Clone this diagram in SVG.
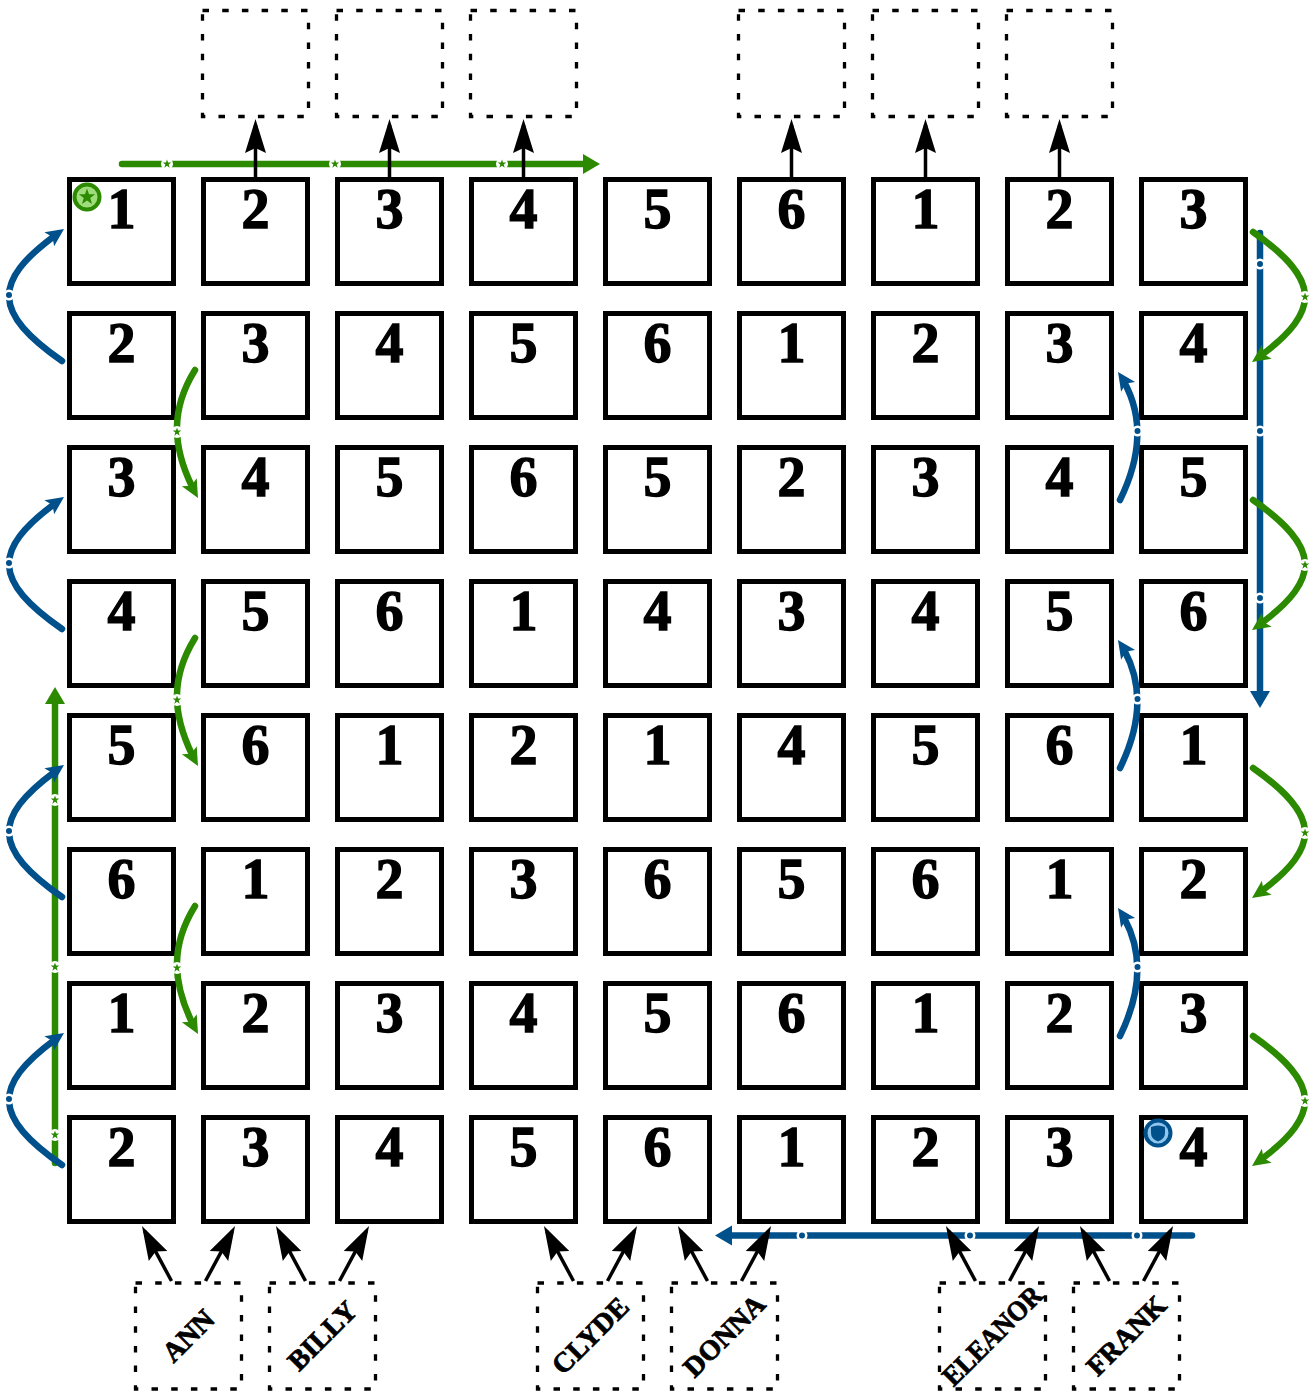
<svg xmlns="http://www.w3.org/2000/svg" xmlns:xlink="http://www.w3.org/1999/xlink" width="1310" height="1399" viewBox="0 0 1310 1399">
<style>
.sq{fill:#fff;stroke:#000;stroke-width:5}
.n{font-family:"Liberation Serif","DejaVu Serif",serif;font-weight:bold;font-size:56px;text-anchor:middle;fill:#000;stroke:#000;stroke-width:1.4}
.db{fill:none;stroke:#000;stroke-width:3.3;stroke-dasharray:6.5 13.2}
.nm{font-family:"Liberation Serif","DejaVu Serif",serif;font-weight:bold;font-size:28px;text-anchor:middle;fill:#000;stroke:#000;stroke-width:0.8}
.gl{fill:none;stroke:#2b8a00;stroke-width:6.5;stroke-linecap:round}
.bl{fill:none;stroke:#00508c;stroke-width:6.5;stroke-linecap:round}
.cl{stroke-dasharray:91 100}
.cll{stroke-dasharray:94 100}
.ka{fill:none;stroke:#000;stroke-width:3.5}
.gm{fill:#fff}
.gs{fill:#2b8a00}
.bm{fill:#00508c;stroke:#fff;stroke-width:2.5}
</style>
<defs>
<polygon id="star" points="0,-4.5 1.06,-1.46 4.28,-1.39 1.71,0.56 2.65,3.64 0,1.8 -2.65,3.64 -1.71,0.56 -4.28,-1.39 -1.06,-1.46"/>
<marker id="ags" viewBox="-6 -11 20 22" markerWidth="20" markerHeight="22" refX="0" refY="0" orient="auto" markerUnits="userSpaceOnUse" overflow="visible"><path d="M12,0 L-5,-10 L-5,10 z" fill="#2b8a00"/></marker>
<marker id="abs" viewBox="-6 -11 20 22" markerWidth="20" markerHeight="22" refX="0" refY="0" orient="auto" markerUnits="userSpaceOnUse" overflow="visible"><path d="M12,0 L-5,-10 L-5,10 z" fill="#00508c"/></marker>
<marker id="agc" viewBox="-20 -10 22 20" markerWidth="22" markerHeight="20" refX="0" refY="0" orient="auto" markerUnits="userSpaceOnUse" overflow="visible"><path d="M0,0 L-18,-8.5 L-14,0 L-18,8.5 z" fill="#2b8a00"/></marker>
<marker id="abc" viewBox="-20 -10 22 20" markerWidth="22" markerHeight="20" refX="0" refY="0" orient="auto" markerUnits="userSpaceOnUse" overflow="visible"><path d="M0,0 L-18,-8.5 L-14,0 L-18,8.5 z" fill="#00508c"/></marker>
<marker id="ak" viewBox="-30 -12 38 24" markerWidth="38" markerHeight="24" refX="0" refY="0" orient="auto" markerUnits="userSpaceOnUse" overflow="visible"><path d="M6,0 L-28,-10.5 L-23,0 L-28,10.5 z" fill="#000"/></marker>
</defs>
<rect width="1310" height="1399" fill="#fff"/>

<g id="squares">
<g id="r0c0" transform="translate(69.5,179.5)"><rect class="sq" width="104" height="104"/><text class="n" x="52" y="48.5">1</text></g>
<g id="r0c1" transform="translate(203.5,179.5)"><rect class="sq" width="104" height="104"/><text class="n" x="52" y="48.5">2</text></g>
<g id="r0c2" transform="translate(337.5,179.5)"><rect class="sq" width="104" height="104"/><text class="n" x="52" y="48.5">3</text></g>
<g id="r0c3" transform="translate(471.5,179.5)"><rect class="sq" width="104" height="104"/><text class="n" x="52" y="48.5">4</text></g>
<g id="r0c4" transform="translate(605.5,179.5)"><rect class="sq" width="104" height="104"/><text class="n" x="52" y="48.5">5</text></g>
<g id="r0c5" transform="translate(739.5,179.5)"><rect class="sq" width="104" height="104"/><text class="n" x="52" y="48.5">6</text></g>
<g id="r0c6" transform="translate(873.5,179.5)"><rect class="sq" width="104" height="104"/><text class="n" x="52" y="48.5">1</text></g>
<g id="r0c7" transform="translate(1007.5,179.5)"><rect class="sq" width="104" height="104"/><text class="n" x="52" y="48.5">2</text></g>
<g id="r0c8" transform="translate(1141.5,179.5)"><rect class="sq" width="104" height="104"/><text class="n" x="52" y="48.5">3</text></g>

<g id="r1c0" transform="translate(69.5,313.5)"><rect class="sq" width="104" height="104"/><text class="n" x="52" y="48.5">2</text></g>
<g id="r1c1" transform="translate(203.5,313.5)"><rect class="sq" width="104" height="104"/><text class="n" x="52" y="48.5">3</text></g>
<g id="r1c2" transform="translate(337.5,313.5)"><rect class="sq" width="104" height="104"/><text class="n" x="52" y="48.5">4</text></g>
<g id="r1c3" transform="translate(471.5,313.5)"><rect class="sq" width="104" height="104"/><text class="n" x="52" y="48.5">5</text></g>
<g id="r1c4" transform="translate(605.5,313.5)"><rect class="sq" width="104" height="104"/><text class="n" x="52" y="48.5">6</text></g>
<g id="r1c5" transform="translate(739.5,313.5)"><rect class="sq" width="104" height="104"/><text class="n" x="52" y="48.5">1</text></g>
<g id="r1c6" transform="translate(873.5,313.5)"><rect class="sq" width="104" height="104"/><text class="n" x="52" y="48.5">2</text></g>
<g id="r1c7" transform="translate(1007.5,313.5)"><rect class="sq" width="104" height="104"/><text class="n" x="52" y="48.5">3</text></g>
<g id="r1c8" transform="translate(1141.5,313.5)"><rect class="sq" width="104" height="104"/><text class="n" x="52" y="48.5">4</text></g>

<g id="r2c0" transform="translate(69.5,447.5)"><rect class="sq" width="104" height="104"/><text class="n" x="52" y="48.5">3</text></g>
<g id="r2c1" transform="translate(203.5,447.5)"><rect class="sq" width="104" height="104"/><text class="n" x="52" y="48.5">4</text></g>
<g id="r2c2" transform="translate(337.5,447.5)"><rect class="sq" width="104" height="104"/><text class="n" x="52" y="48.5">5</text></g>
<g id="r2c3" transform="translate(471.5,447.5)"><rect class="sq" width="104" height="104"/><text class="n" x="52" y="48.5">6</text></g>
<g id="r2c4" transform="translate(605.5,447.5)"><rect class="sq" width="104" height="104"/><text class="n" x="52" y="48.5">5</text></g>
<g id="r2c5" transform="translate(739.5,447.5)"><rect class="sq" width="104" height="104"/><text class="n" x="52" y="48.5">2</text></g>
<g id="r2c6" transform="translate(873.5,447.5)"><rect class="sq" width="104" height="104"/><text class="n" x="52" y="48.5">3</text></g>
<g id="r2c7" transform="translate(1007.5,447.5)"><rect class="sq" width="104" height="104"/><text class="n" x="52" y="48.5">4</text></g>
<g id="r2c8" transform="translate(1141.5,447.5)"><rect class="sq" width="104" height="104"/><text class="n" x="52" y="48.5">5</text></g>

<g id="r3c0" transform="translate(69.5,581.5)"><rect class="sq" width="104" height="104"/><text class="n" x="52" y="48.5">4</text></g>
<g id="r3c1" transform="translate(203.5,581.5)"><rect class="sq" width="104" height="104"/><text class="n" x="52" y="48.5">5</text></g>
<g id="r3c2" transform="translate(337.5,581.5)"><rect class="sq" width="104" height="104"/><text class="n" x="52" y="48.5">6</text></g>
<g id="r3c3" transform="translate(471.5,581.5)"><rect class="sq" width="104" height="104"/><text class="n" x="52" y="48.5">1</text></g>
<g id="r3c4" transform="translate(605.5,581.5)"><rect class="sq" width="104" height="104"/><text class="n" x="52" y="48.5">4</text></g>
<g id="r3c5" transform="translate(739.5,581.5)"><rect class="sq" width="104" height="104"/><text class="n" x="52" y="48.5">3</text></g>
<g id="r3c6" transform="translate(873.5,581.5)"><rect class="sq" width="104" height="104"/><text class="n" x="52" y="48.5">4</text></g>
<g id="r3c7" transform="translate(1007.5,581.5)"><rect class="sq" width="104" height="104"/><text class="n" x="52" y="48.5">5</text></g>
<g id="r3c8" transform="translate(1141.5,581.5)"><rect class="sq" width="104" height="104"/><text class="n" x="52" y="48.5">6</text></g>

<g id="r4c0" transform="translate(69.5,715.5)"><rect class="sq" width="104" height="104"/><text class="n" x="52" y="48.5">5</text></g>
<g id="r4c1" transform="translate(203.5,715.5)"><rect class="sq" width="104" height="104"/><text class="n" x="52" y="48.5">6</text></g>
<g id="r4c2" transform="translate(337.5,715.5)"><rect class="sq" width="104" height="104"/><text class="n" x="52" y="48.5">1</text></g>
<g id="r4c3" transform="translate(471.5,715.5)"><rect class="sq" width="104" height="104"/><text class="n" x="52" y="48.5">2</text></g>
<g id="r4c4" transform="translate(605.5,715.5)"><rect class="sq" width="104" height="104"/><text class="n" x="52" y="48.5">1</text></g>
<g id="r4c5" transform="translate(739.5,715.5)"><rect class="sq" width="104" height="104"/><text class="n" x="52" y="48.5">4</text></g>
<g id="r4c6" transform="translate(873.5,715.5)"><rect class="sq" width="104" height="104"/><text class="n" x="52" y="48.5">5</text></g>
<g id="r4c7" transform="translate(1007.5,715.5)"><rect class="sq" width="104" height="104"/><text class="n" x="52" y="48.5">6</text></g>
<g id="r4c8" transform="translate(1141.5,715.5)"><rect class="sq" width="104" height="104"/><text class="n" x="52" y="48.5">1</text></g>

<g id="r5c0" transform="translate(69.5,849.5)"><rect class="sq" width="104" height="104"/><text class="n" x="52" y="48.5">6</text></g>
<g id="r5c1" transform="translate(203.5,849.5)"><rect class="sq" width="104" height="104"/><text class="n" x="52" y="48.5">1</text></g>
<g id="r5c2" transform="translate(337.5,849.5)"><rect class="sq" width="104" height="104"/><text class="n" x="52" y="48.5">2</text></g>
<g id="r5c3" transform="translate(471.5,849.5)"><rect class="sq" width="104" height="104"/><text class="n" x="52" y="48.5">3</text></g>
<g id="r5c4" transform="translate(605.5,849.5)"><rect class="sq" width="104" height="104"/><text class="n" x="52" y="48.5">6</text></g>
<g id="r5c5" transform="translate(739.5,849.5)"><rect class="sq" width="104" height="104"/><text class="n" x="52" y="48.5">5</text></g>
<g id="r5c6" transform="translate(873.5,849.5)"><rect class="sq" width="104" height="104"/><text class="n" x="52" y="48.5">6</text></g>
<g id="r5c7" transform="translate(1007.5,849.5)"><rect class="sq" width="104" height="104"/><text class="n" x="52" y="48.5">1</text></g>
<g id="r5c8" transform="translate(1141.5,849.5)"><rect class="sq" width="104" height="104"/><text class="n" x="52" y="48.5">2</text></g>

<g id="r6c0" transform="translate(69.5,983.5)"><rect class="sq" width="104" height="104"/><text class="n" x="52" y="48.5">1</text></g>
<g id="r6c1" transform="translate(203.5,983.5)"><rect class="sq" width="104" height="104"/><text class="n" x="52" y="48.5">2</text></g>
<g id="r6c2" transform="translate(337.5,983.5)"><rect class="sq" width="104" height="104"/><text class="n" x="52" y="48.5">3</text></g>
<g id="r6c3" transform="translate(471.5,983.5)"><rect class="sq" width="104" height="104"/><text class="n" x="52" y="48.5">4</text></g>
<g id="r6c4" transform="translate(605.5,983.5)"><rect class="sq" width="104" height="104"/><text class="n" x="52" y="48.5">5</text></g>
<g id="r6c5" transform="translate(739.5,983.5)"><rect class="sq" width="104" height="104"/><text class="n" x="52" y="48.5">6</text></g>
<g id="r6c6" transform="translate(873.5,983.5)"><rect class="sq" width="104" height="104"/><text class="n" x="52" y="48.5">1</text></g>
<g id="r6c7" transform="translate(1007.5,983.5)"><rect class="sq" width="104" height="104"/><text class="n" x="52" y="48.5">2</text></g>
<g id="r6c8" transform="translate(1141.5,983.5)"><rect class="sq" width="104" height="104"/><text class="n" x="52" y="48.5">3</text></g>

<g id="r7c0" transform="translate(69.5,1117.5)"><rect class="sq" width="104" height="104"/><text class="n" x="52" y="48.5">2</text></g>
<g id="r7c1" transform="translate(203.5,1117.5)"><rect class="sq" width="104" height="104"/><text class="n" x="52" y="48.5">3</text></g>
<g id="r7c2" transform="translate(337.5,1117.5)"><rect class="sq" width="104" height="104"/><text class="n" x="52" y="48.5">4</text></g>
<g id="r7c3" transform="translate(471.5,1117.5)"><rect class="sq" width="104" height="104"/><text class="n" x="52" y="48.5">5</text></g>
<g id="r7c4" transform="translate(605.5,1117.5)"><rect class="sq" width="104" height="104"/><text class="n" x="52" y="48.5">6</text></g>
<g id="r7c5" transform="translate(739.5,1117.5)"><rect class="sq" width="104" height="104"/><text class="n" x="52" y="48.5">1</text></g>
<g id="r7c6" transform="translate(873.5,1117.5)"><rect class="sq" width="104" height="104"/><text class="n" x="52" y="48.5">2</text></g>
<g id="r7c7" transform="translate(1007.5,1117.5)"><rect class="sq" width="104" height="104"/><text class="n" x="52" y="48.5">3</text></g>
<g id="r7c8" transform="translate(1141.5,1117.5)"><rect class="sq" width="104" height="104"/><text class="n" x="52" y="48.5">4</text></g>
</g>

<g id="start-token" transform="translate(87,197)">
<circle r="12.5" fill="#9fdc7c" stroke="#2b8a00" stroke-width="4"/>
<use xlink:href="#star" href="#star" class="gs" transform="scale(1.9)"/>
</g>
<g id="end-token" transform="translate(1158,1133)">
<circle r="12.5" fill="#8fc6ee" stroke="#00508c" stroke-width="4"/>
<path d="M-7,-6 Q0,-9 7,-6 L7,0 Q7,6 0,8.5 Q-7,6 -7,0 Z" fill="#00508c"/>
</g>

<g id="top-boxes">
<g id="tb1" transform="translate(202.5,10.5)"><rect class="db" width="106" height="106"/></g>
<g id="tb2" transform="translate(336.5,10.5)"><rect class="db" width="106" height="106"/></g>
<g id="tb3" transform="translate(470.5,10.5)"><rect class="db" width="106" height="106"/></g>
<g id="tb5" transform="translate(738.5,10.5)"><rect class="db" width="106" height="106"/></g>
<g id="tb6" transform="translate(872.5,10.5)"><rect class="db" width="106" height="106"/></g>
<g id="tb7" transform="translate(1006.5,10.5)"><rect class="db" width="106" height="106"/></g>
</g>

<g id="players">
<g id="ann" transform="translate(188.5,1336)"><rect class="db" x="-53" y="-53" width="106" height="106"/><text class="nm" transform="rotate(-45)" y="9">ANN</text></g>
<g id="billy" transform="translate(322.5,1336)"><rect class="db" x="-53" y="-53" width="106" height="106"/><text class="nm" transform="rotate(-45)" y="9">BILLY</text></g>
<g id="clyde" transform="translate(590.5,1336)"><rect class="db" x="-53" y="-53" width="106" height="106"/><text class="nm" transform="rotate(-45)" y="9">CLYDE</text></g>
<g id="donna" transform="translate(724.5,1336)"><rect class="db" x="-53" y="-53" width="106" height="106"/><text class="nm" transform="rotate(-45)" y="9">DONNA</text></g>
<g id="eleanor" transform="translate(992.5,1336)"><rect class="db" x="-53" y="-53" width="106" height="106"/><text class="nm" transform="rotate(-45)" y="9" textLength="128" lengthAdjust="spacingAndGlyphs">ELEANOR</text></g>
<g id="frank" transform="translate(1126.5,1336)"><rect class="db" x="-53" y="-53" width="106" height="106"/><text class="nm" transform="rotate(-45)" y="9">FRANK</text></g>
</g>

<g id="connectors">
<path class="gl" d="M122,164 H588" marker-end="url(#ags)"/>
<path class="gl" d="M55,1163 V699" marker-end="url(#ags)"/>
<path class="bl" d="M1260,233 V696" marker-end="url(#abs)"/>
<path class="bl" d="M1192,1235.5 H727" marker-end="url(#abs)"/>
<g>
<circle class="gm" cx="167" cy="164" r="6"/><use xlink:href="#star" href="#star" class="gs" x="167" y="164"/>
<circle class="gm" cx="335" cy="164" r="6"/><use xlink:href="#star" href="#star" class="gs" x="335" y="164"/>
<circle class="gm" cx="502" cy="164" r="6"/><use xlink:href="#star" href="#star" class="gs" x="502" y="164"/>
<circle class="gm" cx="55" cy="1135" r="6"/><use xlink:href="#star" href="#star" class="gs" x="55" y="1135"/>
<circle class="gm" cx="55" cy="967" r="6"/><use xlink:href="#star" href="#star" class="gs" x="55" y="967"/>
<circle class="gm" cx="55" cy="800" r="6"/><use xlink:href="#star" href="#star" class="gs" x="55" y="800"/>
<circle class="bm" cx="1260" cy="264" r="4.25"/>
<circle class="bm" cx="1260" cy="431" r="4.25"/>
<circle class="bm" cx="1260" cy="598" r="4.25"/>
<circle class="bm" cx="1137" cy="1235.5" r="4.25"/>
<circle class="bm" cx="970" cy="1235.5" r="4.25"/>
<circle class="bm" cx="802" cy="1235.5" r="4.25"/>
</g>
<path class="bl cll" pathLength="100" d="M62,361 C-10,310.6 -8,279.4 64,229" marker-end="url(#abc)"/>
<path class="bl cll" pathLength="100" d="M62,629 C-10,578.6 -8,547.4 64,497" marker-end="url(#abc)"/>
<path class="bl cll" pathLength="100" d="M62,897 C-10,846.6 -8,815.4 64,765" marker-end="url(#abc)"/>
<path class="bl cll" pathLength="100" d="M62,1165 C-10,1114.6 -8,1083.4 64,1033" marker-end="url(#abc)"/>
<path class="gl cl" pathLength="100" d="M195,370 C169,412 172,451 198,498" marker-end="url(#agc)"/>
<path class="gl cl" pathLength="100" d="M195,638 C169,680 172,719 198,766" marker-end="url(#agc)"/>
<path class="gl cl" pathLength="100" d="M195,906 C169,948 172,987 198,1034" marker-end="url(#agc)"/>
<path class="bl cl" pathLength="100" d="M1120,500 C1144.5,450 1142.5,408 1118,372" marker-end="url(#abc)"/>
<path class="bl cl" pathLength="100" d="M1120,768 C1144.5,718 1142.5,676 1118,640" marker-end="url(#abc)"/>
<path class="bl cl" pathLength="100" d="M1120,1036 C1144.5,986 1142.5,944 1118,908" marker-end="url(#abc)"/>
<path class="gl cll" pathLength="100" d="M1253,232 C1323,281 1322,313 1252,362" marker-end="url(#agc)"/>
<path class="gl cll" pathLength="100" d="M1253,500 C1323,549 1322,581 1252,630" marker-end="url(#agc)"/>
<path class="gl cll" pathLength="100" d="M1253,768 C1323,817 1322,849 1252,898" marker-end="url(#agc)"/>
<path class="gl cll" pathLength="100" d="M1253,1036 C1323,1085 1322,1117 1252,1166" marker-end="url(#agc)"/>
<g>
<circle class="bm" cx="9" cy="295" r="4.25"/>
<circle class="bm" cx="9" cy="563" r="4.25"/>
<circle class="bm" cx="9" cy="831" r="4.25"/>
<circle class="bm" cx="9" cy="1099" r="4.25"/>
<circle class="bm" cx="1137.5" cy="431" r="4.25"/>
<circle class="bm" cx="1137.5" cy="699" r="4.25"/>
<circle class="bm" cx="1137.5" cy="967" r="4.25"/>
<circle class="gm" cx="177" cy="432" r="6"/><use xlink:href="#star" href="#star" class="gs" x="177" y="432"/>
<circle class="gm" cx="177" cy="700" r="6"/><use xlink:href="#star" href="#star" class="gs" x="177" y="700"/>
<circle class="gm" cx="177" cy="968" r="6"/><use xlink:href="#star" href="#star" class="gs" x="177" y="968"/>
<circle class="gm" cx="1305" cy="297" r="6"/><use xlink:href="#star" href="#star" class="gs" x="1305" y="297"/>
<circle class="gm" cx="1305" cy="565" r="6"/><use xlink:href="#star" href="#star" class="gs" x="1305" y="565"/>
<circle class="gm" cx="1305" cy="833" r="6"/><use xlink:href="#star" href="#star" class="gs" x="1305" y="833"/>
<circle class="gm" cx="1305" cy="1101" r="6"/><use xlink:href="#star" href="#star" class="gs" x="1305" y="1101"/>
</g>
<path class="ka" d="M255.5,177 V125" marker-end="url(#ak)"/>
<path class="ka" d="M389.5,177 V125" marker-end="url(#ak)"/>
<path class="ka" d="M523.5,177 V125" marker-end="url(#ak)"/>
<path class="ka" d="M791.5,177 V125" marker-end="url(#ak)"/>
<path class="ka" d="M925.5,177 V125" marker-end="url(#ak)"/>
<path class="ka" d="M1059.5,177 V125" marker-end="url(#ak)"/>
<path class="ka" d="M171.5,1281 L144.8,1231.3" marker-end="url(#ak)"/>
<path class="ka" d="M205.5,1281 L232.2,1231.3" marker-end="url(#ak)"/>
<path class="ka" d="M305.5,1281 L278.8,1231.3" marker-end="url(#ak)"/>
<path class="ka" d="M339.5,1281 L366.2,1231.3" marker-end="url(#ak)"/>
<path class="ka" d="M573.5,1281 L546.8,1231.3" marker-end="url(#ak)"/>
<path class="ka" d="M607.5,1281 L634.2,1231.3" marker-end="url(#ak)"/>
<path class="ka" d="M707.5,1281 L680.8,1231.3" marker-end="url(#ak)"/>
<path class="ka" d="M741.5,1281 L768.2,1231.3" marker-end="url(#ak)"/>
<path class="ka" d="M975.5,1281 L948.8,1231.3" marker-end="url(#ak)"/>
<path class="ka" d="M1009.5,1281 L1036.2,1231.3" marker-end="url(#ak)"/>
<path class="ka" d="M1109.5,1281 L1082.8,1231.3" marker-end="url(#ak)"/>
<path class="ka" d="M1143.5,1281 L1170.2,1231.3" marker-end="url(#ak)"/>
</g>
</svg>
